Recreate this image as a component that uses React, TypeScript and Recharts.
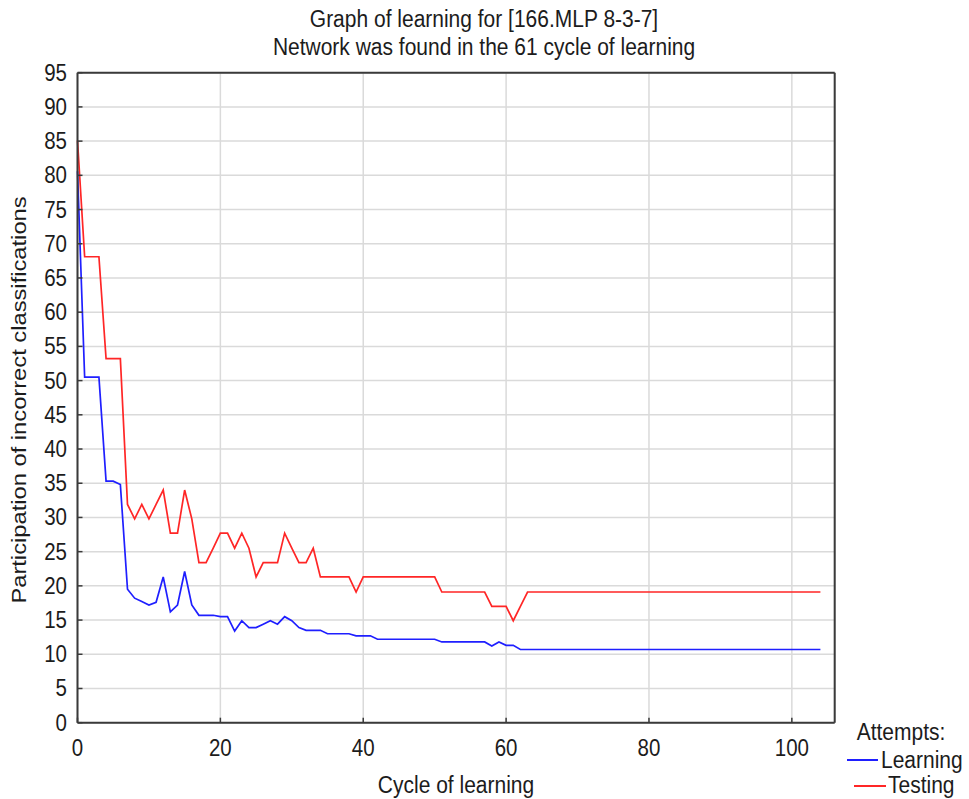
import React from 'react';
import {
  LineChart,
  Line,
  XAxis,
  YAxis,
  CartesianGrid,
  ReferenceLine,
} from 'recharts';

// cycle index on the x axis
const cycles = Array.from({ length: 105 }, (_, i) => i);

const learning = [
  80.6, 50.5, 50.5, 50.5, 35.3, 35.3, 34.8, 19.5, 18.2, 17.7,
  17.2, 17.6, 21.3, 16.2, 17.2, 22.1, 17.2, 15.7, 15.7, 15.7,
  15.5, 15.5, 13.4, 14.9, 13.9, 13.9, 14.4, 14.9, 14.4, 15.5,
  14.9, 13.9, 13.5, 13.5, 13.5, 13.0, 13.0, 13.0, 13.0, 12.7,
  12.7, 12.7, 12.2, 12.2, 12.2, 12.2, 12.2, 12.2, 12.2, 12.2,
  12.2, 11.8, 11.8, 11.8, 11.8, 11.8, 11.8, 11.8, 11.2, 11.8,
  11.3, 11.3, 10.7, 10.7, 10.7, 10.7, 10.7, 10.7, 10.7, 10.7,
  10.7, 10.7, 10.7, 10.7, 10.7, 10.7, 10.7, 10.7, 10.7, 10.7,
  10.7, 10.7, 10.7, 10.7, 10.7, 10.7, 10.7, 10.7, 10.7, 10.7,
  10.7, 10.7, 10.7, 10.7, 10.7, 10.7, 10.7, 10.7, 10.7, 10.7,
  10.7, 10.7, 10.7, 10.7, 10.7,
];

const testing = [
  85.1, 68.1, 68.1, 68.1, 53.2, 53.2, 53.2, 31.9, 29.8, 31.9,
  29.8, 31.9, 34.0, 27.7, 27.7, 34.0, 29.8, 23.4, 23.4, 25.5,
  27.7, 27.7, 25.5, 27.7, 25.5, 21.3, 23.4, 23.4, 23.4, 27.7,
  25.5, 23.4, 23.4, 25.5, 21.3, 21.3, 21.3, 21.3, 21.3, 19.1,
  21.3, 21.3, 21.3, 21.3, 21.3, 21.3, 21.3, 21.3, 21.3, 21.3,
  21.3, 19.1, 19.1, 19.1, 19.1, 19.1, 19.1, 19.1, 17.0, 17.0,
  17.0, 14.9, 17.0, 19.1, 19.1, 19.1, 19.1, 19.1, 19.1, 19.1,
  19.1, 19.1, 19.1, 19.1, 19.1, 19.1, 19.1, 19.1, 19.1, 19.1,
  19.1, 19.1, 19.1, 19.1, 19.1, 19.1, 19.1, 19.1, 19.1, 19.1,
  19.1, 19.1, 19.1, 19.1, 19.1, 19.1, 19.1, 19.1, 19.1, 19.1,
  19.1, 19.1, 19.1, 19.1, 19.1,
];

const xTicks = [0, 20, 40, 60, 80, 100];
const yTicks = [0, 5, 10, 15, 20, 25, 30, 35, 40, 45, 50, 55, 60, 65, 70, 75, 80, 85, 90, 95];

const titleLines = ['Graph of learning for [166.MLP 8-3-7]', 'Network was found in the 61 cycle of learning'];
const xLabel = 'Cycle of learning';
const yLabel = 'Participation of incorrect classifications';
const legendTitle = 'Attempts:';
const seriesNames = ['Learning', 'Testing'];
const seriesColors = ['#1f1fff', '#ff2626'];

const data = cycles.map((c, i) => ({ cycle: c, learning: learning[i], testing: testing[i] }));

const FONT = '"Liberation Sans", Arial, sans-serif';
const TEXT = '#1c1c1c';
const STRETCH = 1.13;

const YTick = ({ x, y, payload }: any) => (
  <text
    transform={`translate(${x},${y + 8}) scale(1,${STRETCH})`}
    textAnchor="end"
    fontSize={20.5}
    fontFamily={FONT}
    fill={TEXT}
  >
    {payload.value}
  </text>
);

const XTick = ({ x, y, payload }: any) => (
  <text
    transform={`translate(${x},${y}) scale(1,${STRETCH})`}
    textAnchor="middle"
    fontSize={20.5}
    fontFamily={FONT}
    fill={TEXT}
  >
    {payload.value}
  </text>
);

const txt = (x: number, y: number, s: string, anchor = 'middle', rot = 0) => (
  <text
    transform={`translate(${x},${y}) scale(1,${STRETCH})${rot ? ` rotate(${rot})` : ''}`}
    textAnchor={anchor}
    fontSize={21}
    fontFamily={FONT}
    fill={TEXT}
  >
    {s}
  </text>
);

export default function App() {
  return (
    <div style={{ position: 'relative', width: 969, height: 799, background: '#fff' }}>
      <style>{'body{margin:0}'}</style>
      <LineChart
        width={969}
        height={799}
        data={data}
        margin={{ top: 72.7, right: 134.3, bottom: 36.3, left: 17.5 }}
      >
        <CartesianGrid stroke="#dadada" strokeWidth={1.5} />
        <XAxis
          dataKey="cycle"
          type="number"
          domain={[0, 106]}
          ticks={xTicks}
          height={40}
          tick={<XTick />}
          tickSize={-5}
          tickMargin={38}
          axisLine={{ stroke: '#3a3a3a', strokeWidth: 2 }}
          tickLine={{ stroke: '#3a3a3a', strokeWidth: 1.5 }}
        />
        <YAxis
          type="number"
          domain={[0, 95]}
          ticks={yTicks}
          width={60}
          interval={0}
          tick={<YTick />}
          tickSize={-5}
          tickMargin={15.5}
          axisLine={{ stroke: '#3a3a3a', strokeWidth: 2 }}
          tickLine={{ stroke: '#3a3a3a', strokeWidth: 1.5 }}
        />
        <ReferenceLine y={95} stroke="#3a3a3a" strokeWidth={2} />
        <ReferenceLine x={106} stroke="#3a3a3a" strokeWidth={2} />
        <Line
          dataKey="testing"
          stroke={seriesColors[1]}
          strokeWidth={1.7}
          dot={false}
          isAnimationActive={false}
        />
        <Line
          dataKey="learning"
          stroke={seriesColors[0]}
          strokeWidth={1.7}
          dot={false}
          isAnimationActive={false}
        />
      </LineChart>
      <svg
        width={969}
        height={799}
        style={{ position: 'absolute', left: 0, top: 0, pointerEvents: 'none' }}
      >
        {txt(484, 26.5, titleLines[0])}
        {txt(484, 54.5, titleLines[1])}
        {txt(456, 793, xLabel)}
        {txt(26, 400, yLabel, 'middle', -90)}
        {txt(901, 740, legendTitle)}
        <line x1={847} x2={878} y1={760} y2={760} stroke={seriesColors[0]} strokeWidth={2} />
        {txt(881, 768, seriesNames[0], 'start')}
        <line x1={854} x2={886} y1={786} y2={786} stroke={seriesColors[1]} strokeWidth={2} />
        {txt(888, 793, seriesNames[1], 'start')}
      </svg>
    </div>
  );
}
